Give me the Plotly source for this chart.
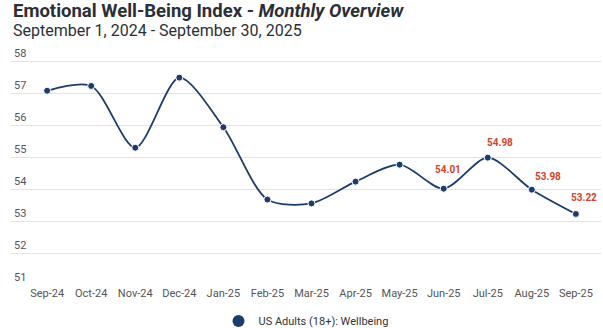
import plotly.graph_objects as go

months = ["Sep-24", "Oct-24", "Nov-24", "Dec-24", "Jan-25", "Feb-25", "Mar-25",
          "Apr-25", "May-25", "Jun-25", "Jul-25", "Aug-25", "Sep-25"]
wellbeing = [57.07, 57.22, 55.29, 57.48, 55.93, 53.67, 53.55,
             54.23, 54.76, 54.01, 54.98, 53.98, 53.22]
labeled = [False] * 9 + [True] * 4
y_ticks = [51, 52, 53, 54, 55, 56, 57, 58]

NAVY = "#1c3d6b"
RED = "#d4442a"
# label offsets (px) for the labeled points
label_dx = {9: 4, 10: 12, 11: 16, 12: 8}
label_dy = {9: 12, 10: 8, 11: 6, 12: 9}

H, T, B = 328, 45, 43
PH = H - T - B


def py(p):
    return (H - B - p) / PH


fig = go.Figure()
fig.add_trace(go.Scatter(
    x=months, y=wellbeing, mode="lines+markers",
    name="US Adults (18+): Wellbeing", showlegend=False,
    line=dict(color=NAVY, width=1.8, shape="spline", smoothing=0.8),
    marker=dict(color=NAVY, size=7, line=dict(color="white", width=1)),
))
fig.add_trace(go.Scatter(
    x=[None], y=[None], mode="markers", name="US Adults (18+): Wellbeing",
    marker=dict(color=NAVY, size=11),
))

annotations = [
    dict(text="<b>Emotional Well-Being Index - <i>Monthly Overview</i></b>",
         xref="paper", yref="paper", x=0, y=py(11), xanchor="left", yanchor="middle",
         showarrow=False, font=dict(size=18.5, color="#2b2f36", family="Roboto")),
    dict(text="September 1, 2024 - September 30, 2025",
         xref="paper", yref="paper", x=0, y=py(30), xanchor="left", yanchor="middle",
         showarrow=False, font=dict(size=16, color="#2b2f36", family="Roboto")),
]
for i, (m, v, l) in enumerate(zip(months, wellbeing, labeled)):
    if l:
        annotations.append(dict(
            text=f"<b>{v:.2f}</b>", x=m, y=v, xref="x", yref="y", showarrow=False,
            xshift=label_dx[i], yshift=label_dy[i], yanchor="bottom", xanchor="center",
            font=dict(family="Roboto", size=10, color=RED)))

fig.update_layout(
    width=603, height=H,
    margin=dict(l=11, r=2, t=T, b=B, autoexpand=False),
    paper_bgcolor="white", plot_bgcolor="white",
    font=dict(family="Roboto", color="#555555"),
    showlegend=True,
    legend=dict(orientation="h", x=0.5, xanchor="center", yref="container",
                y=1 - 321 / 328, yanchor="middle",
                font=dict(size=11, color="#333333"), itemsizing="constant"),
    xaxis=dict(type="category", range=[-0.82, 12.57], showgrid=False, zeroline=False,
               tickfont=dict(size=11, color="#555555"), ticks="", showline=False,
               automargin=False),
    yaxis=dict(range=[51, 58.5], tickvals=y_ticks, showgrid=True, gridcolor="#e3e3e3",
               gridwidth=1, zeroline=False, ticklabelposition="inside top",
               tickfont=dict(size=11, color="#555555"), ticks="", showline=False,
               automargin=False),
    annotations=annotations,
)

fig.write_html("out.html")
